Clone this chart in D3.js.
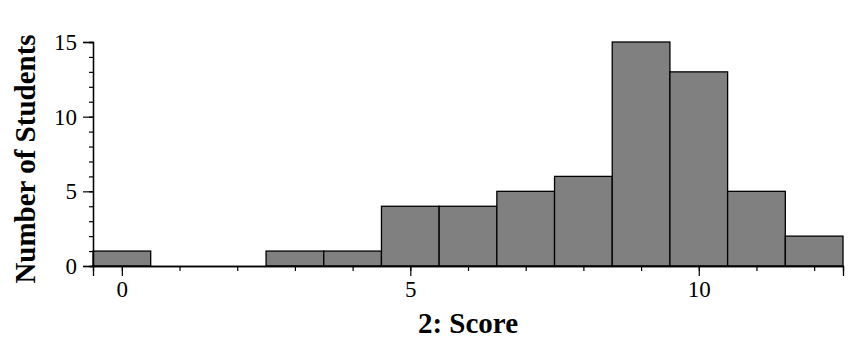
<!DOCTYPE html>
<html>
<head>
<meta charset="utf-8">
<script src="https://cdn.jsdelivr.net/npm/d3@7"></script>
<style>
  body { margin: 0; background: #fff; }
  svg text { font-family: "Times New Roman", "Liberation Serif", Times, serif; }
</style>
</head>
<body>
<div class="container"></div>
<script>
// score values (bin centres) and number of students in each bin
const scores = [0, 1, 2, 3, 4, 5, 6, 7, 8, 9, 10, 11, 12];
const counts = [1, 0, 0, 1, 1, 4, 4, 5, 6, 15, 13, 5, 2];
const xTicks = [0, 5, 10];
const yTicks = [0, 5, 10, 15];

const width = 866, height = 353;
const margin = { top: 42, right: 23, bottom: 87, left: 93 };
const serif = "'Times New Roman', 'Liberation Serif', Times, serif";

const svg = d3.select(".container")
  .append("svg")
  .attr("width", width)
  .attr("height", height);

const g = svg.append("g")
  .attr("transform", `translate(${margin.left}, ${margin.top})`);

const w = width - margin.left - margin.right;
const h = height - margin.top - margin.bottom;

const x = d3.scaleLinear().domain([-0.5, 12.5]).range([0, w]);
const y = d3.scaleLinear().domain([0, 15]).range([h, 0]);

// bars
g.selectAll(".bar")
  .data(scores.map((s, i) => ({ s: s, c: counts[i] })).filter(d => d.c > 0))
  .enter().append("rect")
  .attr("class", "bar")
  .attr("x", d => x(d.s - 0.5))
  .attr("y", d => y(d.c))
  .attr("width", d => x(d.s + 0.5) - x(d.s - 0.5))
  .attr("height", d => y(0) - y(d.c))
  .attr("fill", "#808080")
  .attr("stroke", "#000")
  .attr("stroke-width", 1.3);

// minor ticks
const xMinor = d3.axisBottom(x).tickValues(d3.range(0, 13)).tickSize(5).tickFormat("");
const yMinor = d3.axisLeft(y).tickValues(d3.range(0, 16)).tickSize(4).tickFormat("");

g.append("g").attr("transform", `translate(0, ${h})`).call(xMinor);
g.append("g").call(yMinor);

// major ticks with labels
const xAxis = d3.axisBottom(x).tickValues(xTicks).tickSize(10).tickPadding(5);
const yAxis = d3.axisLeft(y).tickValues(yTicks).tickSize(10).tickPadding(6);

g.append("g").attr("class", "x-axis").attr("transform", `translate(0, ${h})`).call(xAxis);
g.append("g").attr("class", "y-axis").call(yAxis);

g.selectAll(".domain").attr("stroke", "#000").attr("stroke-width", 1.3);
g.selectAll(".tick line").attr("stroke", "#000").attr("stroke-width", 1.2);
g.selectAll(".tick text")
  .attr("fill", "#000")
  .style("font-size", "23px")
  .style("font-family", serif);

// axis titles
svg.append("text")
  .attr("x", 468)
  .attr("y", 333)
  .attr("text-anchor", "middle")
  .style("font-family", serif)
  .style("font-size", "29px")
  .style("font-weight", "bold")
  .text("2: Score");

svg.append("text")
  .attr("transform", `translate(35, 159) rotate(-90)`)
  .attr("text-anchor", "middle")
  .style("font-family", serif)
  .style("font-size", "29px")
  .style("font-weight", "bold")
  .text("Number of Students");
</script>
</body>
</html>
